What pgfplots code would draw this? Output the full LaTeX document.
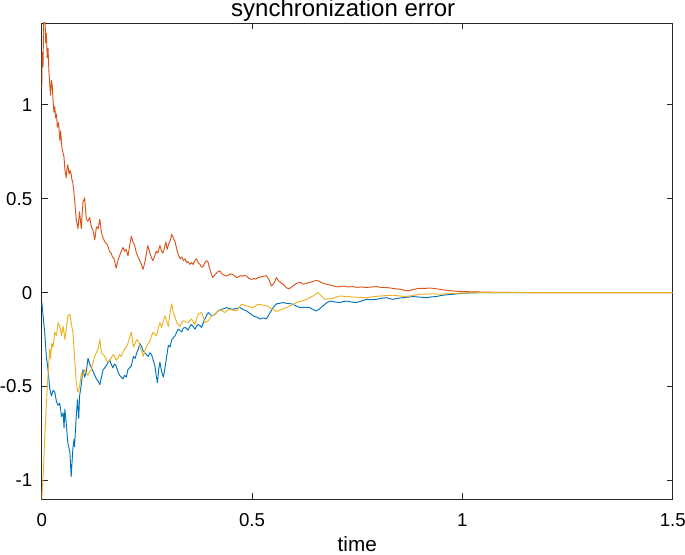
\documentclass[border=0pt]{standalone}
\usepackage{fontspec}
\setmainfont{Liberation Sans}
\usepackage{pgfplots}
\pgfplotsset{compat=1.18}

\definecolor{mblue}{rgb}{0,0.447,0.741}
\definecolor{mred}{rgb}{0.85,0.325,0.098}
\definecolor{myellow}{rgb}{0.929,0.694,0.125}

\begin{document}
\begin{tikzpicture}
% page = 685 x 555 px at 0.75pt per px, axis box sits at the origin
\useasboundingbox (-31.3pt,-41.8pt) rectangle (482.45pt,374.45pt);
\begin{axis}[
  at={(0,0)}, anchor=south west,
  scale only axis,
  width=473.25pt, height=357.2pt,
  xmin=0, xmax=1.5,
  ymin=-1.1, ymax=1.435,
  xtick={0,0.5,1,1.5},
  xticklabels={0,0.5,1,1.5},
  ytick={-1,-0.5,0,0.5,1},
  yticklabels={-1,-0.5,0,0.5,1},
  tick align=inside,
  major tick length=4.5pt,
  axis line style={black!85, line width=0.6pt},
  every tick/.style={black!85, line width=0.6pt},
  tick label style={font=\fontsize{14}{16}\selectfont, inner sep=0pt},
  xticklabel style={anchor=base, yshift=-20.5pt},
  yticklabel style={anchor=east, xshift=-7pt},
  title={synchronization error},
  title style={font=\fontsize{18}{20}\selectfont, at={(0.5,1)}, anchor=base, yshift=-1.5pt, xshift=-10.5pt, inner sep=0pt},
  xlabel={time},
  xlabel style={font=\fontsize{15.5}{18}\selectfont, at={(0.5,0)}, anchor=base, yshift=-39.5pt, inner sep=0pt},
  every axis plot/.append style={line width=0.7pt, line join=round},
]
% series 1 (blue)
\addplot[mblue] coordinates {
(0,-0.05) (0.001,-0.07) (0.003,-0.12) (0.007,-0.21) (0.011,-0.34) (0.015,-0.41)
(0.019,-0.51) (0.023,-0.55) (0.027,-0.52) (0.031,-0.53) (0.035,-0.58) (0.039,-0.60)
(0.043,-0.59) (0.047,-0.66) (0.051,-0.64) (0.053,-0.72) (0.055,-0.62) (0.058,-0.69)
(0.062,-0.80) (0.067,-0.85) (0.070,-0.98) (0.074,-0.83) (0.077,-0.78) (0.078,-0.82)
(0.082,-0.66) (0.085,-0.57) (0.088,-0.67) (0.090,-0.55) (0.094,-0.49) (0.098,-0.41)
(0.102,-0.45) (0.106,-0.42) (0.110,-0.35) (0.114,-0.38) (0.118,-0.40) (0.122,-0.42)
(0.126,-0.44) (0.130,-0.46) (0.134,-0.47) (0.138,-0.49) (0.142,-0.45) (0.146,-0.41)
(0.150,-0.40) (0.153,-0.39) (0.158,-0.37) (0.162,-0.36) (0.165,-0.38) (0.169,-0.40)
(0.173,-0.38) (0.177,-0.39) (0.181,-0.42) (0.185,-0.44) (0.189,-0.45) (0.193,-0.46)
(0.197,-0.44) (0.201,-0.45) (0.205,-0.41) (0.209,-0.40) (0.213,-0.39) (0.218,-0.34)
(0.222,-0.35) (0.226,-0.32) (0.230,-0.30) (0.233,-0.27) (0.238,-0.29) (0.241,-0.31)
(0.245,-0.32) (0.249,-0.33) (0.253,-0.34) (0.257,-0.32) (0.261,-0.33) (0.265,-0.36)
(0.269,-0.39) (0.272,-0.44) (0.275,-0.48) (0.278,-0.41) (0.281,-0.37) (0.285,-0.42)
(0.289,-0.45) (0.293,-0.40) (0.297,-0.34) (0.301,-0.28) (0.305,-0.29) (0.309,-0.25)
(0.313,-0.24) (0.317,-0.23) (0.321,-0.21) (0.324,-0.195) (0.328,-0.20) (0.333,-0.21)
(0.336,-0.19) (0.340,-0.186) (0.344,-0.19) (0.348,-0.20) (0.352,-0.18) (0.356,-0.17)
(0.360,-0.18) (0.364,-0.195) (0.368,-0.18) (0.372,-0.17) (0.376,-0.175) (0.380,-0.186)
(0.384,-0.16) (0.388,-0.14) (0.392,-0.12) (0.396,-0.106) (0.400,-0.115) (0.404,-0.124)
(0.408,-0.12) (0.412,-0.115) (0.416,-0.105) (0.419,-0.098) (0.424,-0.092) (0.428,-0.089)
(0.434,-0.085) (0.439,-0.08) (0.447,-0.086) (0.455,-0.089) (0.463,-0.084) (0.471,-0.08)
(0.479,-0.09) (0.487,-0.098) (0.495,-0.11) (0.503,-0.124) (0.511,-0.13) (0.519,-0.14)
(0.527,-0.135) (0.534,-0.14) (0.542,-0.11) (0.550,-0.08) (0.558,-0.06) (0.566,-0.057)
(0.574,-0.053) (0.584,-0.058) (0.594,-0.06) (0.604,-0.07) (0.614,-0.08) (0.625,-0.078)
(0.637,-0.08) (0.645,-0.09) (0.653,-0.098) (0.661,-0.085) (0.669,-0.07) (0.677,-0.055)
(0.685,-0.045) (0.697,-0.05) (0.709,-0.053) (0.717,-0.048) (0.724,-0.045) (0.736,-0.05)
(0.748,-0.053) (0.760,-0.045) (0.772,-0.036) (0.784,-0.038) (0.796,-0.036) (0.808,-0.03)
(0.819,-0.027) (0.827,-0.032) (0.835,-0.036) (0.847,-0.03) (0.859,-0.027) (0.871,-0.024)
(0.883,-0.021) (0.898,-0.024) (0.914,-0.027) (0.926,-0.023) (0.938,-0.021) (0.946,-0.017)
(0.954,-0.014) (0.966,-0.011) (0.978,-0.009) (0.990,-0.006) (1.001,-0.004) (1.017,-0.002)
(1.033,-0.001) (1.060,-0.0005) (1.100,0) (1.500,0)
};
% series 2 (red)
\addplot[mred] coordinates {
(0,1.09) (0.001,1.28) (0.003,1.20) (0.005,1.50) (0.007,1.60) (0.009,1.33)
(0.011,1.38) (0.013,1.25) (0.015,1.30) (0.017,1.18) (0.019,1.11) (0.021,1.05)
(0.023,1.13) (0.025,1.10) (0.027,1.02) (0.029,0.96) (0.031,0.99) (0.033,0.93)
(0.035,0.95) (0.037,0.88) (0.040,0.905) (0.043,0.81) (0.045,0.86) (0.048,0.77)
(0.051,0.74) (0.053,0.72) (0.055,0.655) (0.058,0.61) (0.060,0.66) (0.062,0.68)
(0.065,0.63) (0.067,0.65) (0.070,0.63) (0.072,0.60) (0.074,0.585) (0.078,0.50)
(0.082,0.39) (0.086,0.34) (0.090,0.43) (0.094,0.34) (0.098,0.48) (0.102,0.505)
(0.106,0.39) (0.110,0.38) (0.114,0.40) (0.118,0.35) (0.122,0.33) (0.126,0.28)
(0.130,0.35) (0.134,0.34) (0.138,0.39) (0.142,0.32) (0.146,0.29) (0.150,0.27)
(0.154,0.26) (0.157,0.25) (0.161,0.22) (0.165,0.21) (0.168,0.19) (0.172,0.18)
(0.175,0.15) (0.177,0.13) (0.181,0.17) (0.185,0.195) (0.189,0.22) (0.193,0.24)
(0.197,0.22) (0.201,0.23) (0.205,0.195) (0.209,0.25) (0.213,0.30) (0.217,0.27)
(0.221,0.25) (0.225,0.21) (0.229,0.19) (0.233,0.17) (0.237,0.15) (0.241,0.124)
(0.245,0.16) (0.249,0.21) (0.252,0.25) (0.256,0.22) (0.260,0.19) (0.264,0.17)
(0.268,0.19) (0.272,0.22) (0.276,0.21) (0.281,0.25) (0.285,0.22) (0.288,0.21)
(0.292,0.24) (0.295,0.27) (0.298,0.23) (0.302,0.26) (0.306,0.28) (0.309,0.31)
(0.313,0.29) (0.317,0.27) (0.321,0.23) (0.325,0.20) (0.329,0.18) (0.333,0.19)
(0.337,0.17) (0.341,0.18) (0.344,0.16) (0.348,0.165) (0.352,0.15) (0.356,0.16)
(0.360,0.15) (0.364,0.17) (0.368,0.18) (0.372,0.16) (0.376,0.15) (0.380,0.135)
(0.384,0.14) (0.388,0.16) (0.392,0.17) (0.395,0.165) (0.399,0.13) (0.403,0.10)
(0.406,0.08) (0.410,0.09) (0.414,0.10) (0.418,0.11) (0.424,0.115) (0.428,0.10)
(0.432,0.095) (0.436,0.09) (0.439,0.088) (0.444,0.092) (0.448,0.10) (0.454,0.097)
(0.458,0.09) (0.463,0.08) (0.468,0.085) (0.473,0.09) (0.478,0.088) (0.483,0.092)
(0.488,0.085) (0.493,0.075) (0.499,0.07) (0.504,0.075) (0.509,0.072) (0.514,0.08)
(0.524,0.085) (0.534,0.09) (0.540,0.07) (0.546,0.035) (0.552,0.05) (0.558,0.08)
(0.564,0.06) (0.570,0.05) (0.576,0.04) (0.582,0.025) (0.588,0.02) (0.594,0.03)
(0.600,0.04) (0.607,0.05) (0.614,0.055) (0.622,0.045) (0.630,0.05) (0.638,0.055)
(0.646,0.06) (0.653,0.065) (0.660,0.06) (0.668,0.05) (0.677,0.044) (0.686,0.04)
(0.695,0.035) (0.703,0.03) (0.709,0.032) (0.718,0.035) (0.727,0.03) (0.739,0.032)
(0.750,0.028) (0.760,0.03) (0.772,0.027) (0.784,0.03) (0.796,0.032) (0.808,0.027)
(0.819,0.027) (0.830,0.024) (0.841,0.02) (0.851,0.018) (0.861,0.013) (0.871,0.009)
(0.880,0.015) (0.890,0.02) (0.899,0.023) (0.910,0.022) (0.920,0.024) (0.929,0.023)
(0.938,0.02) (0.946,0.018) (0.955,0.014) (0.966,0.011) (0.977,0.009) (0.990,0.007)
(1.010,0.005) (1.030,0.004) (1.048,0.003) (1.070,0.002) (1.090,0.0015) (1.120,0.001)
(1.160,0.0003) (1.200,0) (1.500,0)
};
% series 3 (yellow)
\addplot[myellow] coordinates {
(0,-1.10) (0.004,-0.95) (0.007,-0.78) (0.011,-0.60) (0.013,-0.51) (0.015,-0.44)
(0.019,-0.30) (0.021,-0.35) (0.024,-0.27) (0.027,-0.29) (0.031,-0.21) (0.035,-0.23)
(0.039,-0.16) (0.043,-0.18) (0.047,-0.23) (0.051,-0.18) (0.055,-0.25) (0.058,-0.195)
(0.062,-0.124) (0.067,-0.115) (0.070,-0.16) (0.074,-0.21) (0.078,-0.34) (0.082,-0.48)
(0.086,-0.53) (0.090,-0.50) (0.094,-0.43) (0.098,-0.44) (0.102,-0.41) (0.106,-0.43)
(0.110,-0.44) (0.114,-0.42) (0.118,-0.41) (0.122,-0.37) (0.126,-0.34) (0.130,-0.32)
(0.134,-0.30) (0.138,-0.25) (0.142,-0.32) (0.146,-0.33) (0.150,-0.34) (0.154,-0.36)
(0.157,-0.37) (0.161,-0.36) (0.165,-0.35) (0.169,-0.33) (0.173,-0.34) (0.177,-0.36)
(0.181,-0.35) (0.185,-0.33) (0.189,-0.34) (0.193,-0.32) (0.197,-0.30) (0.201,-0.29)
(0.205,-0.27) (0.209,-0.24) (0.213,-0.21) (0.218,-0.29) (0.222,-0.27) (0.226,-0.25)
(0.230,-0.26) (0.233,-0.28) (0.237,-0.31) (0.241,-0.34) (0.245,-0.31) (0.249,-0.29)
(0.253,-0.27) (0.257,-0.26) (0.261,-0.23) (0.265,-0.21) (0.269,-0.22) (0.273,-0.23)
(0.277,-0.19) (0.281,-0.16) (0.285,-0.186) (0.289,-0.15) (0.293,-0.124) (0.297,-0.15)
(0.301,-0.18) (0.305,-0.11) (0.309,-0.06) (0.313,-0.106) (0.317,-0.13) (0.321,-0.16)
(0.325,-0.17) (0.329,-0.18) (0.333,-0.16) (0.336,-0.15) (0.342,-0.155) (0.348,-0.16)
(0.352,-0.15) (0.356,-0.14) (0.360,-0.155) (0.364,-0.17) (0.368,-0.14) (0.372,-0.115)
(0.376,-0.11) (0.380,-0.106) (0.384,-0.13) (0.388,-0.16) (0.392,-0.155) (0.396,-0.15)
(0.400,-0.135) (0.404,-0.124) (0.408,-0.12) (0.412,-0.115) (0.418,-0.10) (0.424,-0.089)
(0.430,-0.098) (0.435,-0.106) (0.441,-0.095) (0.447,-0.089) (0.455,-0.094) (0.463,-0.098)
(0.469,-0.08) (0.475,-0.062) (0.481,-0.066) (0.487,-0.071) (0.495,-0.076) (0.503,-0.08)
(0.509,-0.07) (0.514,-0.062) (0.524,-0.066) (0.534,-0.07) (0.546,-0.085) (0.558,-0.10)
(0.570,-0.09) (0.582,-0.08) (0.594,-0.066) (0.606,-0.053) (0.618,-0.045) (0.629,-0.036)
(0.637,-0.027) (0.645,-0.018) (0.651,-0.009) (0.657,0.0) (0.665,-0.018) (0.673,-0.036)
(0.683,-0.033) (0.693,-0.03) (0.701,-0.024) (0.709,-0.018) (0.720,-0.02) (0.732,-0.022)
(0.752,-0.025) (0.772,-0.027) (0.788,-0.022) (0.804,-0.018) (0.820,-0.016) (0.835,-0.014)
(0.851,-0.018) (0.867,-0.021) (0.883,-0.015) (0.899,-0.009) (0.915,-0.008) (0.930,-0.006)
(0.946,-0.009) (0.962,-0.006) (0.978,-0.004) (0.994,-0.003) (1.010,-0.002) (1.050,0)
(1.500,0)
};
\end{axis}
\end{tikzpicture}
\end{document}
